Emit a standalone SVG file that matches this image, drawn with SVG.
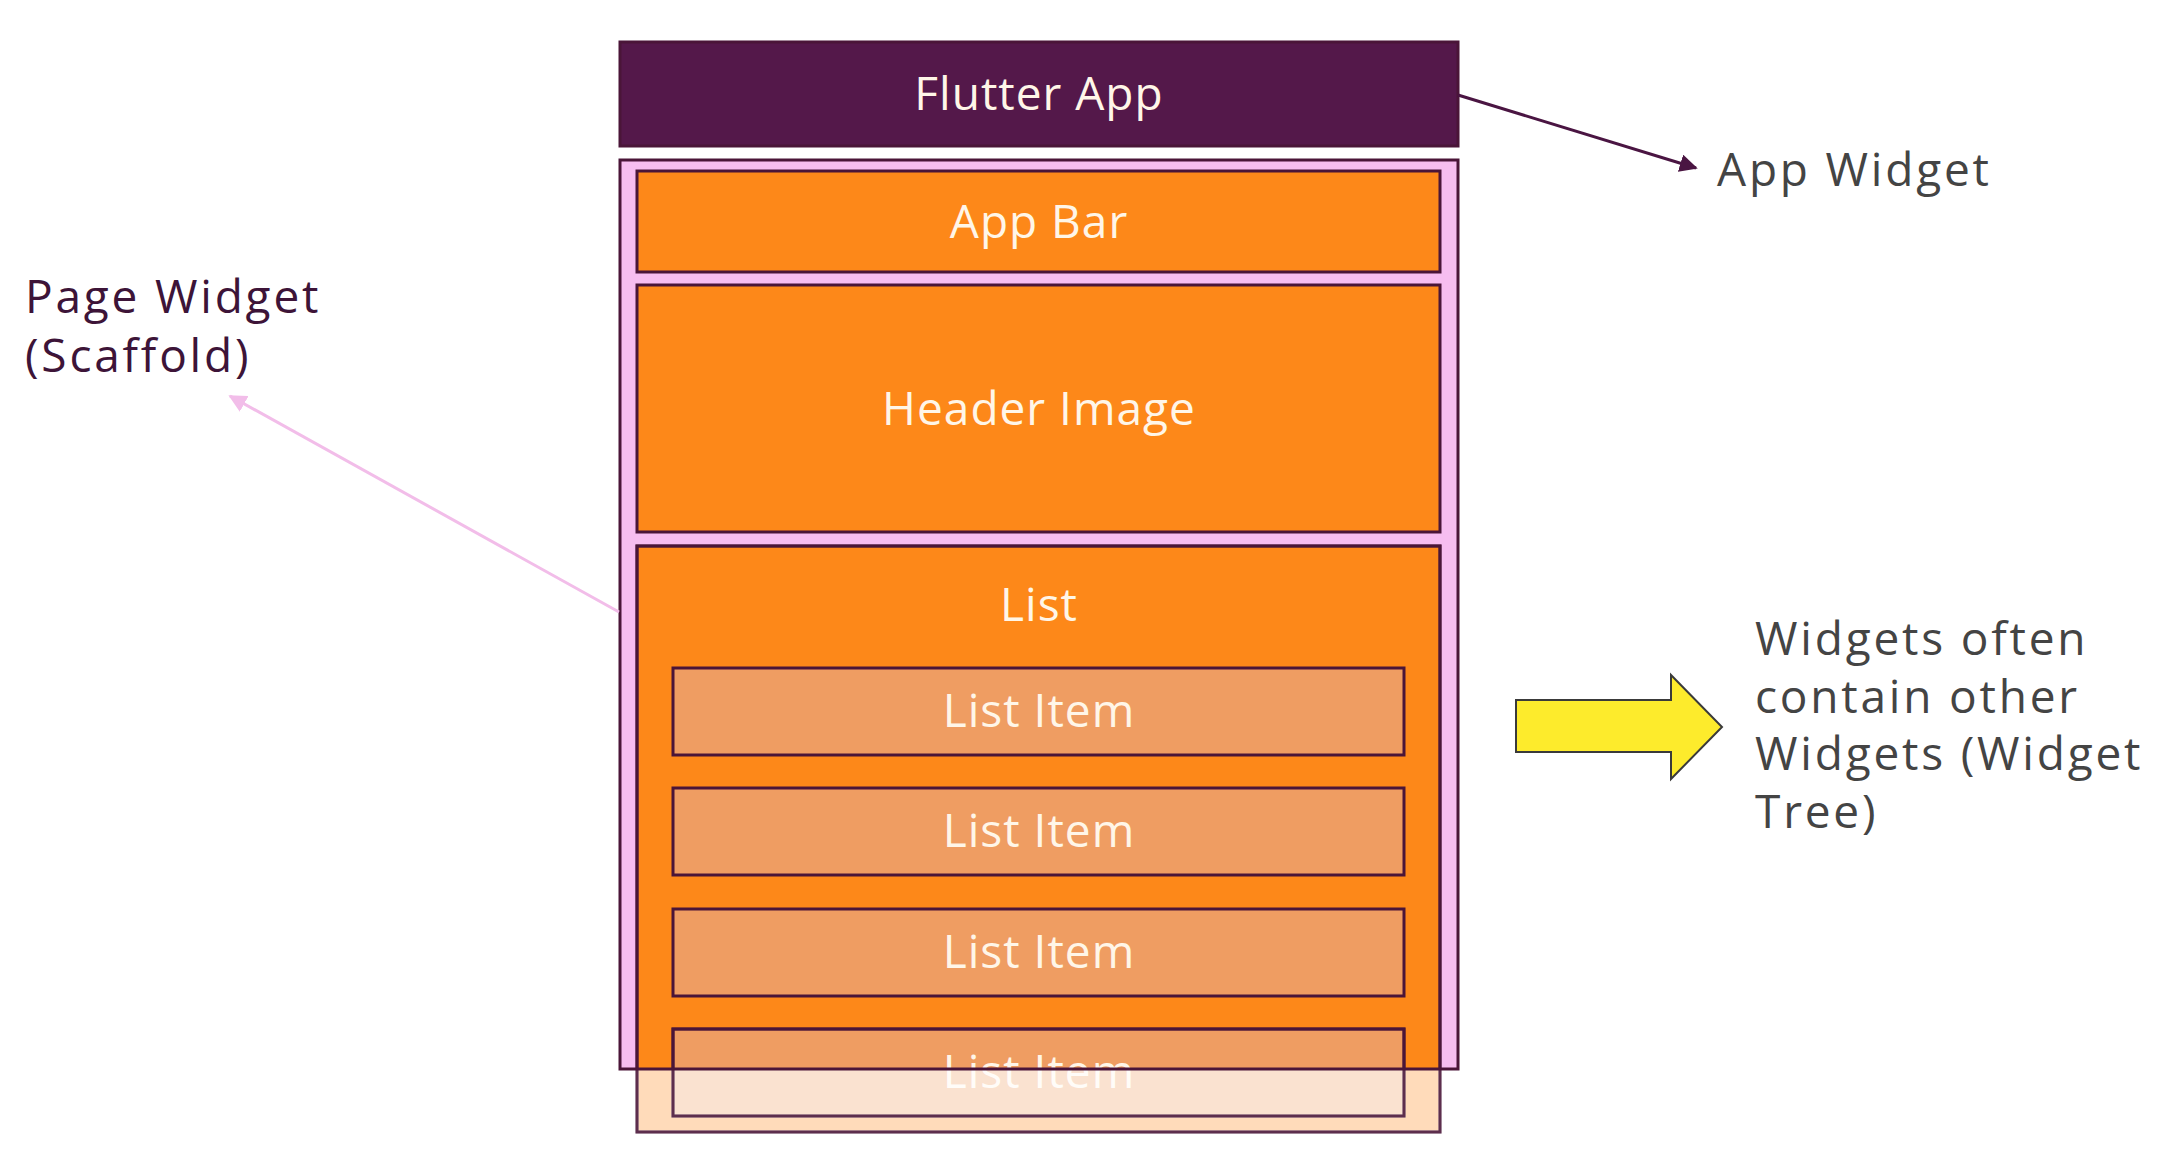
<svg xmlns="http://www.w3.org/2000/svg" width="2157" height="1155" viewBox="0 0 2157 1155">
<defs>
<style>
.box{stroke:#4a1538;stroke-width:3}
.edge{fill:none;stroke:#4a1538;stroke-width:3}
.lbl{font-family:"Open Sans","Liberation Sans",sans-serif;fill:#fff6e8;text-anchor:middle;font-size:46px;letter-spacing:1px}
.side{font-family:"Open Sans","Liberation Sans",sans-serif;font-size:46px;letter-spacing:2.8px}
</style>
<marker id="ahDark" viewBox="0 0 10 10" refX="9" refY="5" markerWidth="6" markerHeight="6" orient="auto"><path d="M0,0 L10,5 L0,10 z" fill="#4a1542"/></marker>
<marker id="ahPink" viewBox="0 0 10 10" refX="9" refY="5" markerWidth="6" markerHeight="6" orient="auto"><path d="M0,0 L10,5 L0,10 z" fill="#f2bde9"/></marker>
</defs>
<rect width="2157" height="1155" fill="#ffffff"/>

<g id="flutter-app">
<rect class="box" x="620" y="42" width="838" height="104" fill="#54184a"/>
<text class="lbl" x="1039" y="110">Flutter App</text>
</g>

<g id="scaffold">
<rect x="620" y="160" width="838" height="909" fill="#f7bdf0"/>
</g>

<g id="app-bar">
<rect class="box" x="637" y="171" width="803" height="101" fill="#fd8819"/>
<text class="lbl" x="1039" y="238">App Bar</text>
</g>

<g id="header-image">
<rect class="box" x="637" y="285" width="803" height="247" fill="#fd8819"/>
<text class="lbl" x="1039" y="425">Header Image</text>
</g>

<g id="list">
<rect class="box" x="637" y="546" width="803" height="586" fill="#fd8819"/>
<text class="lbl" x="1039" y="621">List</text>
</g>

<g id="list-item-1">
<rect class="box" x="673" y="668" width="731" height="87" fill="#ef9d62"/>
<text class="lbl" x="1039" y="727">List Item</text>
</g>
<g id="list-item-2">
<rect class="box" x="673" y="788" width="731" height="87" fill="#ef9d62"/>
<text class="lbl" x="1039" y="847">List Item</text>
</g>
<g id="list-item-3">
<rect class="box" x="673" y="909" width="731" height="87" fill="#ef9d62"/>
<text class="lbl" x="1039" y="968">List Item</text>
</g>
<g id="list-item-4">
<rect class="box" x="673" y="1029" width="731" height="87" fill="#ef9d62"/>
<text class="lbl" x="1039" y="1088">List Item</text>
</g>

<rect x="600" y="1070" width="880" height="85" fill="#ffffff" opacity="0.7"/>
<rect class="edge" x="637" y="546" width="803" height="586" opacity="0.85"/>
<rect class="edge" x="673" y="1029" width="731" height="87" opacity="0.85"/>

<g id="scaffold-outline">
<rect class="edge" x="620" y="160" width="838" height="909"/>
</g>

<g id="connectors">
<line x1="1458" y1="95" x2="1696" y2="168" stroke="#4a1542" stroke-width="3" marker-end="url(#ahDark)"/>
<line x1="619" y1="612" x2="230" y2="396" stroke="#f2bde9" stroke-width="3" marker-end="url(#ahPink)"/>
<path d="M1516,700 L1671,700 L1671,675 L1722,727 L1671,779 L1671,752 L1516,752 Z" fill="#fdeb2c" stroke="#3a3a3a" stroke-width="2"/>
</g>

<g id="app-widget-label">
<text class="side" x="1717" y="186" fill="#444444">App Widget</text>
</g>
<g id="page-widget-label">
<text class="side" x="25" y="313" fill="#3d1438">Page Widget</text>
<text class="side" x="25" y="372" fill="#3d1438">(Scaffold)</text>
</g>
<g id="widget-tree-label">
<text class="side" x="1755" y="655" fill="#444444">Widgets often</text>
<text class="side" x="1755" y="713" fill="#444444">contain other</text>
<text class="side" x="1755" y="770" fill="#444444">Widgets (Widget</text>
<text class="side" x="1755" y="828" fill="#444444">Tree)</text>
</g>
</svg>
